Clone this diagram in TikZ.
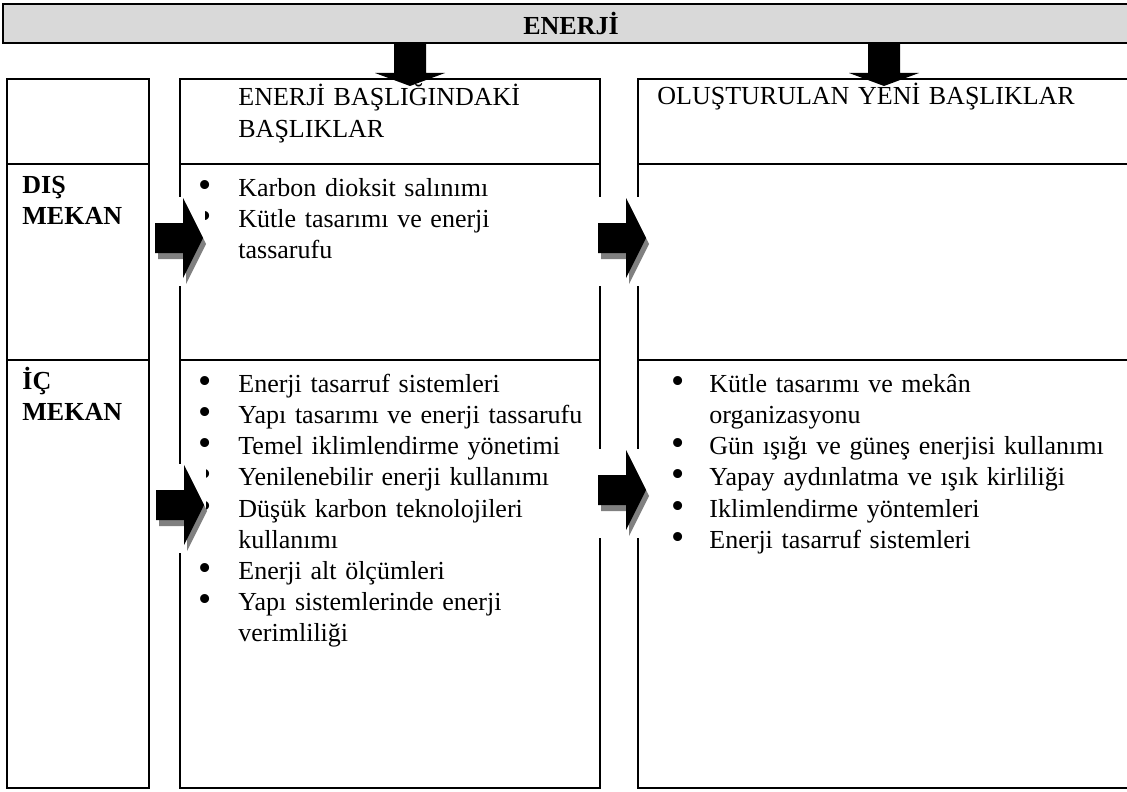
\documentclass[tikz,border=0pt]{standalone}
\usepackage{fontspec}
\setmainfont{Liberation Serif}
\usepackage{enumitem}
\setlist[itemize]{label=\raisebox{-0.5pt}{\scalebox{1.45}{\textbullet}}, nosep}

\definecolor{bannergray}{HTML}{D9D9D9}
\definecolor{shadowgray}{HTML}{808080}

\tikzset{
	grid line/.style={line width=1pt},
	cell/.style={anchor=base west, inner sep=0pt, align=left, font=\fontsize{13}{15.6}\selectfont},
	side/.style={cell, font=\fontsize{13}{15.6}\selectfont\bfseries},
	box arrow/.pic={
		\fill[white] (-2,-41) rectangle (50,48);
		\fill[shadowgray, shift={(3,6)}] (0,-15) -- (28,-15) -- (28,-40) -- (48,0) -- (28,40) -- (28,15) -- (0,15) -- cycle;
		\fill (0,-15) -- (28,-15) -- (28,-40) -- (48,0) -- (28,40) -- (28,15) -- (0,15) -- cycle;
	},
	down arrow/.pic={
		\fill (-16,0) -- (16,0) -- (16,30) -- (35,30) -- (0,43) -- (-35,30) -- (-16,30) -- cycle;
	}
}

\begin{document}
\begin{tikzpicture}[x=0.5pt, y=-0.5pt]
	\useasboundingbox (0,0) rectangle (1127,791);
	\clip (0,0) rectangle (1127,791);
	% title bar
	\draw[grid line, fill=bannergray] (3,4) rectangle (1140,43);
	\node[font=\fontsize{13}{15.6}\selectfont\bfseries] (title) at (571,23) {ENERJİ};
	\pic (down1) at (410,43) {down arrow};
	\pic (down2) at (884,43) {down arrow};
	% columns
	\draw[grid line] (7,79) rectangle (149,788);
	\draw[grid line] (180,79) rectangle (600,788);
	\draw[grid line] (638,79) rectangle (1140,788);
	\foreach \y in {164,360}
		\foreach \a/\b in {7/149,180/600,638/1140}
			\draw[grid line] (\a,\y) -- (\b,\y);
	% headings
	\node[cell, text width=190pt] (head2) at (238,106) {ENERJİ BAŞLIĞINDAKİ\\BAŞLIKLAR};
	\node[cell, text width=240pt] (head3) at (657,105) {OLUŞTURULAN YENİ BAŞLIKLAR};
	\node[side, text width=60pt] (dis) at (22,193) {DIŞ\\MEKAN};
	\node[side, text width=60pt] (ic) at (22,389) {İÇ\\MEKAN};
	% lists
	\node[cell, text width=210pt] (dis2) at (180,165) {%
		\begin{itemize}[leftmargin=29pt, labelsep=13.6pt]
			\item Karbon dioksit salınımı
			\item Kütle tasarımı ve enerji\newline tassarufu
		\end{itemize}};
	\node[cell, text width=210pt] (ic2) at (180,361) {%
		\begin{itemize}[leftmargin=29pt, labelsep=13.6pt]
			\item Enerji tasarruf sistemleri
			\item Yapı tasarımı ve enerji tassarufu
			\item Temel iklimlendirme yönetimi
			\item Yenilenebilir enerji kullanımı
			\item Düşük karbon teknolojileri\newline kullanımı
			\item Enerji alt ölçümleri
			\item Yapı sistemlerinde enerji\newline verimliliği
		\end{itemize}};
	\node[cell, text width=240pt] (ic3) at (638,361) {%
		\begin{itemize}[leftmargin=35.5pt, labelsep=12.2pt]
			\item Kütle tasarımı ve mekân\newline organizasyonu
			\item Gün ışığı ve güneş enerjisi kullanımı
			\item Yapay aydınlatma ve ışık kirliliği
			\item Iklimlendirme yöntemleri
			\item Enerji tasarruf sistemleri
		\end{itemize}};
	% block arrows
	\pic (right1) at (155,238) {box arrow};
	\pic (right2) at (598,238) {box arrow};
	\pic (right3) at (156,505) {box arrow};
	\pic (right4) at (598,490) {box arrow};
\end{tikzpicture}
\end{document}
